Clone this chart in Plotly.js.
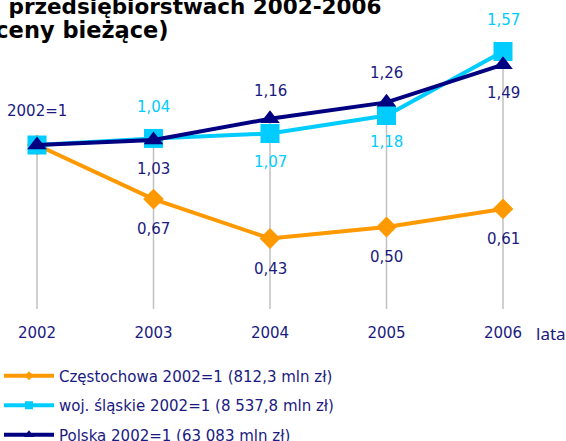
<!DOCTYPE html>
<html>
<head>
<meta charset="utf-8">
<script src="https://cdn.plot.ly/plotly-3.0.1.min.js"></script>
<style>html,body{margin:0;padding:0;background:#fff;}#chart{width:566px;height:441px;}</style>
</head>
<body>
<div id="chart"></div>
<script>
// ---- data ----
var years = [2002, 2003, 2004, 2005, 2006];
var yearLabels = ['2002', '2003', '2004', '2005', '2006'];
var czestochowa = [1, 0.67, 0.43, 0.50, 0.61];
var slaskie = [1, 1.04, 1.07, 1.18, 1.57];
var polska = [1, 1.03, 1.16, 1.26, 1.49];
var seriesNames = [
  'Częstochowa 2002=1 (812,3 mln zł)',
  'woj. śląskie 2002=1 (8 537,8 mln zł)',
  'Polska 2002=1 (63 083 mln zł)'
];
var titleLine1 = ' przedsiębiorstwach 2002-2006';
var titleLine2 = '(ceny bieżące)';
var baseLabel = '2002=1';
var xAxisLabel = 'lata';

// ---- style ----
var ORANGE = '#FF9900', CYAN = '#00CCFF', NAVY = '#000080', TXT = '#1a1a80';
var L = 20, R = 46, T = 20, B = 132, W = 566, H = 441;
var pw = W - L - R, ph = H - T - B;
function px(x) { return (x - L) / pw; }
function py(y) { return (T + ph - y) / ph; }
function fmt(v) { return v.toFixed(2).replace('.', ','); }

// drop lines from highest value down to axis
var dropX = [], dropY = [];
years.forEach(function (yr, i) {
  var m = Math.max(czestochowa[i], slaskie[i], polska[i]);
  dropX.push(yr, yr, null);
  dropY.push(m, 0, null);
});

var traces = [
  {x: dropX, y: dropY, mode: 'lines', line: {color: '#c0c0c0', width: 1.5}, showlegend: false, hoverinfo: 'skip', cliponaxis: false},
  {x: years, y: czestochowa, mode: 'lines+markers', line: {color: ORANGE, width: 4},
   marker: {symbol: 'diamond', size: 16, color: ORANGE}, showlegend: false, cliponaxis: false},
  {x: years, y: slaskie, mode: 'lines+markers', line: {color: CYAN, width: 4},
   marker: {symbol: 'square', size: 19, color: CYAN}, showlegend: false, cliponaxis: false},
  {x: years, y: polska, mode: 'lines+markers', line: {color: NAVY, width: 4},
   marker: {symbol: 'triangle-up', size: 17, color: NAVY}, showlegend: false, cliponaxis: false},
  // legend entries
  {x: [null], y: [null], mode: 'lines+markers', name: seriesNames[0], legendgroup: 'a',
   line: {color: ORANGE, width: 4}, marker: {symbol: 'diamond', size: 7, color: ORANGE}},
  {x: [null], y: [null], mode: 'lines+markers', name: seriesNames[1], legendgroup: 'b',
   line: {color: CYAN, width: 4}, marker: {symbol: 'square', size: 8, color: CYAN}},
  {x: [null], y: [null], mode: 'lines+markers', name: seriesNames[2], legendgroup: 'c',
   line: {color: NAVY, width: 4}, marker: {symbol: 'triangle-up', size: 9, color: NAVY}}
];

var labFont = {family: 'DejaVu Sans', size: 15};
var annotations = [];
function lab(x, y, text, color, shift) {
  annotations.push({x: x, y: y, xref: 'x', yref: 'y', text: text, showarrow: false,
    font: {family: labFont.family, size: labFont.size, color: color}, yshift: shift});
}
var czPos = [0, -30, -31, -30, -30];
var slPos = [0, 31, -28, -27, 32];
var plPos = [0, -29, 28, 29, -28];
for (var i = 1; i < years.length; i++) {
  lab(years[i], czestochowa[i], fmt(czestochowa[i]), TXT, czPos[i]);
  lab(years[i], slaskie[i], fmt(slaskie[i]), CYAN, slPos[i]);
  lab(years[i], polska[i], fmt(polska[i]), TXT, plPos[i]);
}
lab(years[0], polska[0], baseLabel, TXT, 34);

// titles
annotations.push({xref: 'paper', yref: 'paper', x: px(-1), y: py(7), xanchor: 'left', yanchor: 'middle',
  text: '<b>' + titleLine1 + '</b>', showarrow: false, font: {family: 'DejaVu Sans', size: 21.5, color: '#000'}});
annotations.push({xref: 'paper', yref: 'paper', x: px(171), y: py(30), xanchor: 'right', yanchor: 'middle',
  text: '<b>' + titleLine2 + '</b>', showarrow: false, font: {family: 'DejaVu Sans', size: 22.5, color: '#000'}});
// axis label
annotations.push({xref: 'paper', yref: 'paper', x: px(551), y: py(333), xanchor: 'center', yanchor: 'middle',
  text: xAxisLabel, showarrow: false, font: {family: 'Noto Sans', size: 17, color: TXT}});

var layout = {
  width: W, height: H,
  margin: {l: L, r: R, t: T, b: B, pad: 0, autoexpand: false},
  paper_bgcolor: '#fff', plot_bgcolor: '#fff',
  showlegend: true,
  xaxis: {range: [2002 - 17 / 116.5, 2006 + 17 / 116.5], tickvals: years, ticktext: yearLabels,
    showgrid: false, zeroline: false, showline: false, ticks: '', ticklabelstandoff: 13, automargin: false,
    tickfont: {family: 'DejaVu Sans', size: 15, color: TXT}, fixedrange: true},
  yaxis: {range: [0, 289 / 164], visible: false, fixedrange: true, automargin: false},
  legend: {x: px(-1), y: py(359.5), xanchor: 'left', yanchor: 'top', orientation: 'v',
    traceorder: 'grouped', tracegroupgap: 7, itemwidth: 50, bgcolor: 'rgba(0,0,0,0)',
    font: {family: 'DejaVu Sans', size: 15, color: TXT}},
  annotations: annotations,
  hovermode: false
};

Plotly.newPlot('chart', traces, layout, {displayModeBar: false, staticPlot: true});
</script>
</body>
</html>
